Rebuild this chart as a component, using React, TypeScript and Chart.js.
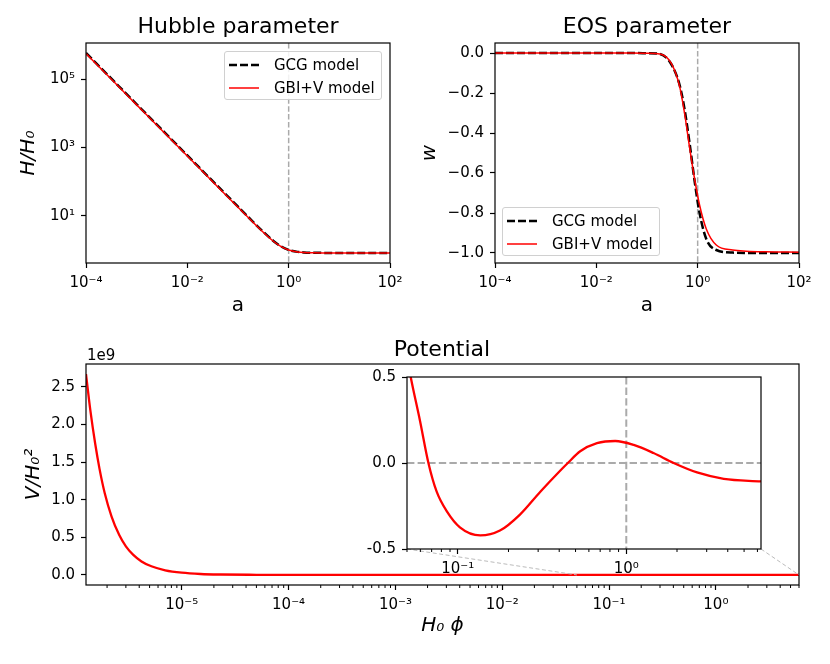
import React, { useEffect, useRef } from 'react';
import { Chart, registerables } from 'chart.js';

Chart.register(...registerables);

const FONT = 'DejaVu Sans';

// Hubble parameter H/H0 against scale factor a
const hubbleA = [1e-4, 3e-4, 1e-3, 3e-3, 1e-2, 3e-2, 0.1, 0.2, 0.3, 0.5, 0.7, 1, 1.5, 2, 3, 5, 10, 100];
const hubbleGCG = [5.8e5, 1.115e5, 1.83e4, 3530, 580, 111.5, 18.35, 6.53, 3.62, 1.83, 1.28, 1.0, 0.874, 0.84, 0.823, 0.817, 0.815, 0.815];
const hubbleGBI = [5.55e5, 1.07e5, 1.76e4, 3390, 557, 107.5, 17.7, 6.33, 3.52, 1.79, 1.26, 0.99, 0.868, 0.836, 0.821, 0.815, 0.813, 0.813];
const hubbleXTicks = [1e-4, 1e-2, 1, 1e2];
const hubbleXLabels = ['10⁻⁴', '10⁻²', '10⁰', '10²'];
const hubbleYTicks = [1e1, 1e3, 1e5];
const hubbleYLabels = ['10¹', '10³', '10⁵'];

// EOS parameter w against a
const eosA = [1e-4, 1e-2, 0.05, 0.1, 0.18, 0.3, 0.44, 0.55, 0.7, 0.87, 1.09, 1.48, 2.33, 4.9, 22, 100];
const eosGCG = [0, 0, 0, -0.001, -0.005, -0.055, -0.16, -0.28, -0.46, -0.64, -0.8, -0.93, -0.985, -0.998, -1.0, -1.0];
const eosGBI = [0, 0, 0, -0.001, -0.005, -0.051, -0.167, -0.3, -0.48, -0.63, -0.76, -0.88, -0.96, -0.985, -0.994, -0.996];
const eosYTicks = [-1, -0.8, -0.6, -0.4, -0.2, 0];
const eosYLabels = ['−1.0', '−0.8', '−0.6', '−0.4', '−0.2', '0.0'];

// Potential V/H0^2 against H0 phi
const potPhi = [1.27e-6, 1.4e-6, 1.55e-6, 1.7e-6, 1.9e-6, 2.2e-6, 2.6e-6, 3e-6, 3.5e-6, 4.2e-6, 5.2e-6, 7e-6, 1e-5, 1.5e-5, 2.3e-5, 5e-5, 1e-4, 1e-3, 1e-2, 0.1, 1, 6];
const potV = [2.67e9, 2.17e9, 1.74e9, 1.41e9, 1.09e9, 0.78e9, 0.53e9, 0.38e9, 0.27e9, 0.18e9, 0.115e9, 0.062e9, 0.03e9, 0.013e9, 0.006e9, 0.002e9, 0.0007e9, 0, 0, 0, 0, 0];
const potXTicks = [1e-5, 1e-4, 1e-3, 1e-2, 1e-1, 1];
const potXLabels = ['10⁻⁵', '10⁻⁴', '10⁻³', '10⁻²', '10⁻¹', '10⁰'];
const potYTicks = [0, 0.5e9, 1e9, 1.5e9, 2e9, 2.5e9];
const potYLabels = ['0.0', '0.5', '1.0', '1.5', '2.0', '2.5'];

// zoomed inset of the potential
const insetPhi = [0.05, 0.0526, 0.0597, 0.067, 0.075, 0.086, 0.103, 0.136, 0.178, 0.234, 0.309, 0.405, 0.45, 0.533, 0.67, 0.86, 1.107, 1.45, 1.91, 2.63, 3.79, 6.3];
const insetV = [0.62, 0.5, 0.246, 0, -0.167, -0.28, -0.374, -0.421, -0.393, -0.3, -0.167, -0.045, 0, 0.068, 0.115, 0.128, 0.105, 0.058, 0, -0.055, -0.092, -0.107];
const insetXTicks = [0.1, 1];
const insetXLabels = ['10⁻¹', '10⁰'];
const insetYTicks = [-0.5, 0, 0.5];
const insetYLabels = ['-0.5', '0.0', '0.5'];

const legendLabels = ['GCG model', 'GBI+V model'];

const INSET_X = [0.05, 6.3];
const INSET_Y = [-0.5, 0.5];

const HUBBLE_POS = { left: 0, top: 0, width: 415, height: 320 };
const EOS_POS = { left: 415, top: 0, width: 415, height: 320 };
const POT_POS = { left: 0, top: 330, width: 830, height: 310 };
const INSET_POS = { left: 357, top: 362, width: 445, height: 220 };

type AxisSpec = {
  type: 'linear' | 'logarithmic';
  min: number;
  max: number;
  ticks: number[];
  labels: string[];
  size: number;
  horizontal: boolean;
  title?: string;
  italic?: boolean;
  titlePad?: number;
};

function axis(s: AxisSpec) {
  return {
    type: s.type,
    min: s.min,
    max: s.max,
    afterBuildTicks: (scale: any) => {
      scale.ticks = s.ticks.map((value) => ({ value }));
    },
    afterFit: (scale: any) => {
      if (s.horizontal) scale.height = s.size;
      else scale.width = s.size;
    },
    ticks: {
      autoSkip: false,
      maxRotation: 0,
      minRotation: 0,
      padding: 6,
      color: '#000',
      font: { family: FONT, size: 15 },
      callback: (_v: any, i: number) => s.labels[i],
    },
    grid: { display: true, drawOnChartArea: false, drawTicks: true, tickLength: 5, tickWidth: 1.2, tickColor: '#000' },
    border: { display: false },
    title: {
      display: !!s.title,
      text: s.title || '',
      color: '#000',
      font: { family: FONT, size: 20, style: s.italic ? 'italic' : 'normal' },
      padding: { top: s.titlePad || 0, bottom: s.titlePad || 0 },
    },
  };
}

const frame = {
  id: 'frame',
  afterDraw(chart: any) {
    const { ctx, chartArea: a } = chart;
    ctx.save();
    ctx.strokeStyle = '#000';
    ctx.lineWidth = 1.2;
    ctx.strokeRect(a.left, a.top, a.right - a.left, a.bottom - a.top);
    ctx.restore();
  },
};

function refLines(xs: number[], ys: number[], width: number, dash: number[]) {
  return {
    id: 'refLines',
    beforeDatasetsDraw(chart: any) {
      const { ctx, chartArea: a, scales } = chart;
      ctx.save();
      ctx.beginPath();
      xs.forEach((v) => {
        const px = scales.x.getPixelForValue(v);
        ctx.moveTo(px, a.top);
        ctx.lineTo(px, a.bottom);
      });
      ys.forEach((v) => {
        const py = scales.y.getPixelForValue(v);
        ctx.moveTo(a.left, py);
        ctx.lineTo(a.right, py);
      });
      ctx.strokeStyle = '#aaaaaa';
      ctx.lineWidth = width;
      ctx.setLineDash(dash);
      ctx.stroke();
      ctx.restore();
    },
  };
}

// short log minor ticks on the x axis
const minorTicks = {
  id: 'minorTicks',
  afterDraw(chart: any) {
    const { ctx, chartArea: a } = chart;
    const s = chart.scales.x;
    const lo = Math.floor(Math.log10(s.min));
    const hi = Math.ceil(Math.log10(s.max));
    ctx.save();
    ctx.beginPath();
    for (let e = lo; e <= hi; e++) {
      for (let k = 2; k <= 9; k++) {
        const v = k * Math.pow(10, e);
        if (v < s.min || v > s.max) continue;
        const px = s.getPixelForValue(v);
        ctx.moveTo(px, a.bottom);
        ctx.lineTo(px, a.bottom + 3);
      }
    }
    ctx.strokeStyle = '#000';
    ctx.lineWidth = 1;
    ctx.stroke();
    ctx.restore();
  },
};

function points(xs: number[], ys: number[]) {
  return xs.map((x, i) => ({ x, y: ys[i] }));
}

function baseOptions(padding: any) {
  return {
    responsive: false,
    animation: false as const,
    events: [],
    layout: { padding },
    plugins: { legend: { display: false }, tooltip: { enabled: false } },
  };
}

function twoModels(xs: number[], gcg: number[], gbi: number[]) {
  return [
    {
      label: legendLabels[1],
      data: points(xs, gbi),
      borderColor: '#ff0000',
      borderWidth: 1.5,
      pointRadius: 0,
      cubicInterpolationMode: 'monotone' as const,
      order: 0,
      clip: 0,
    },
    {
      label: legendLabels[0],
      data: points(xs, gcg),
      borderColor: '#000000',
      borderWidth: 2.5,
      borderDash: [8, 3],
      pointRadius: 0,
      cubicInterpolationMode: 'monotone' as const,
      order: 1,
      clip: 0,
    },
  ];
}

const legendItems = [
  { label: legendLabels[0], color: '#000', width: 2.5, dash: '8 3' },
  { label: legendLabels[1], color: '#ff0000', width: 1.5, dash: undefined },
];

function Legend({ left, top }: { left: number; top: number }) {
  return (
    <div
      style={{
        position: 'absolute',
        left,
        top,
        width: 158,
        height: 49,
        boxSizing: 'border-box',
        border: '1px solid #d0d0d0',
        borderRadius: 3,
        background: 'rgba(255,255,255,0.85)',
        fontFamily: FONT,
        fontSize: 15,
        paddingTop: 1,
      }}
    >
      {legendItems.map((item) => (
        <div key={item.label} style={{ display: 'flex', alignItems: 'center', height: 23 }}>
          <svg width={30} height={10} style={{ marginLeft: 4, marginRight: 15 }}>
            <line x1={0} y1={5} x2={30} y2={5} stroke={item.color} strokeWidth={item.width} strokeDasharray={item.dash} />
          </svg>
          <span>{item.label}</span>
        </div>
      ))}
    </div>
  );
}

function Title({ text, x, top }: { text: string; x: number; top: number }) {
  return (
    <div
      style={{
        position: 'absolute',
        left: x,
        top,
        transform: 'translateX(-50%)',
        whiteSpace: 'nowrap',
        fontFamily: FONT,
        fontSize: 22,
        lineHeight: '22px',
        color: '#000',
      }}
    >
      {text}
    </div>
  );
}

function canvasStyle(p: { left: number; top: number; width: number; height: number }): React.CSSProperties {
  return { position: 'absolute', left: p.left, top: p.top, width: p.width, height: p.height };
}

export default function App() {
  const hubbleRef = useRef<HTMLCanvasElement>(null);
  const eosRef = useRef<HTMLCanvasElement>(null);
  const potRef = useRef<HTMLCanvasElement>(null);
  const insetRef = useRef<HTMLCanvasElement>(null);

  useEffect(() => {
    const charts: Chart[] = [];

    charts.push(
      new Chart(hubbleRef.current!, {
        type: 'line',
        data: { datasets: twoModels(hubbleA, hubbleGCG, hubbleGBI) as any },
        options: {
          ...baseOptions({ top: 43, right: 25, left: 0, bottom: 0 }),
          scales: {
            x: axis({ type: 'logarithmic', min: 1e-4, max: 1e2, ticks: hubbleXTicks, labels: hubbleXLabels, size: 57, horizontal: true, title: 'a', titlePad: 2 }),
            y: axis({ type: 'logarithmic', min: Math.pow(10, -0.384), max: Math.pow(10, 6.056), ticks: hubbleYTicks, labels: hubbleYLabels, size: 86, horizontal: false, title: 'H/H₀', italic: true, titlePad: 17 }),
          },
        } as any,
        plugins: [frame, refLines([1], [], 1.5, [5.5, 2.4])],
      })
    );

    charts.push(
      new Chart(eosRef.current!, {
        type: 'line',
        data: { datasets: twoModels(eosA, eosGCG, eosGBI) as any },
        options: {
          ...baseOptions({ top: 43, right: 31, left: 0, bottom: 0 }),
          scales: {
            x: axis({ type: 'logarithmic', min: 1e-4, max: 1e2, ticks: hubbleXTicks, labels: hubbleXLabels, size: 57, horizontal: true, title: 'a', titlePad: 2 }),
            y: axis({ type: 'linear', min: -1.05, max: 0.05, ticks: eosYTicks, labels: eosYLabels, size: 80, horizontal: false, title: 'w', italic: true, titlePad: 3 }),
          },
        } as any,
        plugins: [frame, refLines([1], [], 1.5, [5.5, 2.4])],
      })
    );

    const potChart = new Chart(potRef.current!, {
      type: 'line',
      data: {
        datasets: [
          {
            data: points(potPhi, potV),
            borderColor: '#ff0000',
            borderWidth: 2.3,
            pointRadius: 0,
            cubicInterpolationMode: 'monotone',
            clip: 0,
          },
        ],
      } as any,
      options: {
        ...baseOptions({ top: 34, right: 31, left: 0, bottom: 0 }),
        scales: {
          x: axis({ type: 'logarithmic', min: 1.27e-6, max: 6, ticks: potXTicks, labels: potXLabels, size: 55, horizontal: true, title: 'H₀ ϕ', italic: true, titlePad: 2 }),
          y: axis({ type: 'linear', min: -0.1335e9, max: 2.8035e9, ticks: potYTicks, labels: potYLabels, size: 86, horizontal: false, title: 'V/H₀²', italic: true, titlePad: 22 }),
        },
      } as any,
      plugins: [frame, minorTicks],
    });
    charts.push(potChart);

    // dashed connectors from the inset corners to the zoomed region
    const connectors = {
      id: 'connectors',
      beforeDraw(chart: any) {
        const { ctx, chartArea: a } = chart;
        ctx.save();
        ctx.fillStyle = '#fff';
        ctx.fillRect(a.left, a.top, a.right - a.left, a.bottom - a.top);
        const mx: any = potChart.scales.x;
        const my: any = potChart.scales.y;
        const dx = POT_POS.left - INSET_POS.left;
        const dy = POT_POS.top - INSET_POS.top;
        const py = my.getPixelForValue(INSET_Y[0]) + dy;
        const pl = mx.getPixelForValue(INSET_X[0]) + dx;
        const pr = Math.min(mx.getPixelForValue(INSET_X[1]), potChart.chartArea.right) + dx;
        ctx.beginPath();
        ctx.moveTo(a.left, a.bottom);
        ctx.lineTo(pl, py);
        ctx.moveTo(a.right, a.bottom);
        ctx.lineTo(pr, py);
        ctx.strokeStyle = '#bbbbbb';
        ctx.lineWidth = 1;
        ctx.setLineDash([4, 2.5]);
        ctx.stroke();
        ctx.restore();
      },
    };

    charts.push(
      new Chart(insetRef.current!, {
        type: 'line',
        data: {
          datasets: [
            {
              data: points(insetPhi, insetV),
              borderColor: '#ff0000',
              borderWidth: 2.3,
              pointRadius: 0,
              cubicInterpolationMode: 'monotone',
              clip: 0,
            },
          ],
        } as any,
        options: {
          ...baseOptions({ top: 10, right: 41, left: 0, bottom: 0 }),
          scales: {
            x: axis({ type: 'logarithmic', min: INSET_X[0], max: INSET_X[1], ticks: insetXTicks, labels: insetXLabels, size: 33, horizontal: true }),
            y: axis({ type: 'linear', min: INSET_Y[0], max: INSET_Y[1], ticks: insetYTicks, labels: insetYLabels, size: 50, horizontal: false }),
          },
        } as any,
        plugins: [connectors, frame, minorTicks, refLines([1], [0], 2, [7.4, 3.2])],
      })
    );

    return () => charts.forEach((c) => c.destroy());
  }, []);

  return (
    <div style={{ position: 'absolute', left: 0, top: 0, width: 830, height: 664, background: '#fff', overflow: 'hidden' }}>
      <canvas ref={hubbleRef} width={HUBBLE_POS.width} height={HUBBLE_POS.height} style={canvasStyle(HUBBLE_POS)} />
      <canvas ref={eosRef} width={EOS_POS.width} height={EOS_POS.height} style={canvasStyle(EOS_POS)} />
      <canvas ref={potRef} width={POT_POS.width} height={POT_POS.height} style={canvasStyle(POT_POS)} />
      <canvas ref={insetRef} width={INSET_POS.width} height={INSET_POS.height} style={canvasStyle(INSET_POS)} />
      <Title text="Hubble parameter" x={238} top={15} />
      <Title text="EOS parameter" x={647} top={15} />
      <Title text="Potential" x={442} top={338} />
      <div style={{ position: 'absolute', left: 87, top: 348, fontFamily: FONT, fontSize: 15, lineHeight: '15px', color: '#000' }}>1e9</div>
      <Legend left={224} top={51} />
      <Legend left={502} top={207} />
    </div>
  );
}
